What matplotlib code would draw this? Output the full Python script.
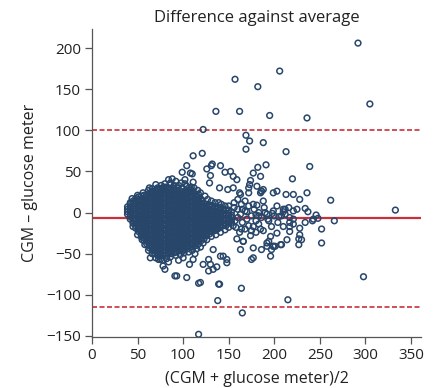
import matplotlib
matplotlib.use("Agg")
import matplotlib.pyplot as plt
import numpy as np

plt.rcParams["font.family"] = ["Open Sans", "DejaVu Sans"]

# %% data
# dense core of the cloud: one x per column, the y values read off for that column
blob_cols = [39, 42, 45, 48, 51, 54, 57, 60, 63, 66, 69, 72, 75, 78, 81, 84, 87,
             90, 93, 96, 99, 102, 105, 108, 111, 114, 117, 120, 123, 126, 129,
             132, 135, 138, 141, 144, 147, 150, 153]
blob_y = [
    [-2, 1, 4, 7],
    [-8, -5, -2, 1, 4, 7, 10, 12],
    [-13, -10, -7, -4, -1, 2, 5, 8, 11, 14],
    [-19, -16, -13, -10, -7, -4, -1, 2, 5, 8, 11, 14, 17],
    [-23, -20, -17, -14, -11, -8, -5, -2, 1, 4, 7, 10, 13, 16, 19],
    [-29, -26, -23, -20, -17, -14, -11, -8, -5, -2, 1, 4, 7, 10, 13, 16, 20],
    [-34, -31, -28, -25, -22, -19, -16, -13, -10, -7, -4, -1, 2, 5, 8, 11, 14, 17, 21],
    [-38, -35, -32, -29, -26, -23, -20, -17, -14, -11, -8, -5, -2, 1, 4, 7, 10, 13,
     16, 19, 22],
    [-43, -40, -37, -34, -31, -28, -25, -22, -19, -16, -13, -10, -7, -4, -1, 2, 5, 8,
     11, 14, 17, 20, 23],
    [-46, -43, -40, -37, -34, -31, -28, -25, -22, -19, -16, -13, -10, -7, -4, -1, 2, 5,
     8, 11, 14, 17, 20, 23, 25],
    [-50, -47, -44, -41, -38, -35, -32, -29, -26, -23, -20, -17, -14, -11, -8, -5, -2, 1,
     4, 7, 10, 13, 16, 19, 22, 26],
    [-52, -49, -46, -43, -40, -37, -34, -31, -28, -25, -22, -19, -16, -13, -10, -7, -4,
     -1, 2, 5, 8, 11, 14, 17, 20, 23],
    [-53, -50, -47, -44, -41, -38, -35, -32, -29, -26, -23, -20, -17, -14, -11, -8, -5,
     -2, 1, 4, 7, 10, 13, 16, 19, 22, 25, 28],
    [-52, -49, -46, -43, -40, -37, -34, -31, -28, -25, -22, -19, -16, -13, -10, -7, -4,
     -1, 2, 5, 8, 11, 14, 17, 20, 23, 27],
    [-52, -49, -46, -43, -40, -37, -34, -31, -28, -25, -22, -19, -16, -13, -10, -7, -4,
     -1, 2, 5, 8, 11, 14, 17, 20, 23, 26, 29, 31],
    [-50, -47, -44, -41, -38, -35, -32, -29, -26, -23, -20, -17, -14, -11, -8, -5, -2,
     1, 4, 7, 10, 13, 16, 19, 22, 25, 28, 30],
    [-50, -47, -44, -41, -38, -35, -32, -29, -26, -23, -20, -17, -14, -11, -8, -5, -2,
     1, 4, 7, 10, 13, 16, 19, 22, 25, 28],
    [-49, -46, -43, -40, -37, -34, -31, -28, -25, -22, -19, -16, -13, -10, -7, -4, -1,
     2, 5, 8, 11, 14, 17, 20, 23, 26, 29],
    [-48, -45, -42, -39, -36, -33, -30, -27, -24, -21, -18, -15, -12, -9, -6, -3, 0,
     3, 6, 9, 12, 15, 18, 21, 24, 27, 30],
    [-46, -43, -40, -37, -34, -31, -28, -25, -22, -19, -16, -13, -10, -7, -4, -1, 2,
     5, 8, 11, 14, 17, 20, 23, 27],
    [-47, -44, -41, -38, -35, -32, -29, -26, -23, -20, -17, -14, -11, -8, -5, -2, 1,
     4, 7, 10, 13, 16, 19, 22, 25, 29],
    [-45, -42, -39, -36, -33, -30, -27, -24, -21, -18, -15, -12, -9, -6, -3, 0, 3,
     6, 9, 12, 15, 18, 21, 24, 26],
    [-44, -41, -38, -35, -32, -29, -26, -23, -20, -17, -14, -11, -8, -5, -2, 1, 4,
     7, 10, 13, 16, 19, 22, 25, 27],
    [-42, -39, -36, -33, -30, -27, -24, -21, -18, -15, -12, -9, -6, -3, 0, 3, 6,
     9, 12, 15, 18, 21, 24, 27, 29],
    [-42, -39, -36, -33, -30, -27, -24, -21, -18, -15, -12, -9, -6, -3, 0, 3, 6,
     9, 12, 15, 18, 21, 25],
    [-40, -37, -34, -31, -28, -25, -22, -19, -16, -13, -10, -7, -4, -1, 2, 5, 8,
     11, 14, 17, 20, 22],
    [-38, -35, -32, -29, -26, -23, -20, -17, -14, -11, -8, -5, -2, 1, 4, 7, 10,
     13, 16, 19, 22],
    [-34, -31, -28, -25, -22, -19, -16, -13, -10, -7, -4, -1, 2, 5, 8, 11, 14, 16],
    [-32, -29, -26, -23, -20, -17, -14, -11, -8, -5, -2, 1, 4, 7, 11],
    [-28, -25, -22, -19, -16, -13, -10, -7, -4, -1, 2, 5, 8, 10],
    [-26, -23, -20, -17, -14, -11, -8, -5, -2, 1, 4, 7, 9],
    [-23, -20, -17, -14, -11, -8, -5, -2, 1, 4, 8],
    [-22, -19, -16, -13, -10, -7, -4, -1, 2, 5, 7],
    [-20, -17, -14, -11, -8, -5, -2, 1, 4, 6],
    [-18, -15, -12, -9, -6, -3, 0, 3, 6],
    [-16, -13, -10, -7, -4, -1, 2, 4],
    [-16, -13, -10, -7, -4, -1, 3],
    [-13, -10, -7, -4, -1, 3],
    [-12, -9, -6, -3, 1],
]

# ragged rim of the core
edge_x = [44, 50, 56, 62, 66, 72, 76, 80, 86, 90, 95, 98, 104, 112, 116, 119,
          124, 127, 131, 135, 139, 142, 146, 150, 156, 160, 63, 70, 92, 88, 79,
          45, 50, 55, 58, 62, 66, 70, 73, 77, 82, 86, 92, 97, 101, 106, 110,
          115, 119, 122, 126, 131, 136, 141, 146, 150, 155, 84, 95, 100, 113,
          157, 160, 163, 165, 168, 170, 172, 175, 178, 180, 183, 186, 189, 192,
          158, 162, 168, 174, 180, 185, 194, 200, 204, 156, 160, 164, 168, 172]
edge_y = [17, 21, 24, 27, 29, 30, 33, 35, 34, 33, 33, 36, 32, 30, 27, 24,
          20, 16, 14, 12, 12, 10, 8, 8, 6, 4, 30, 34, 38, 41, 30,
          -17, -27, -33, -39, -46, -50, -55, -57, -58, -56, -54, -52, -51, -49, -48, -46,
          -44, -42, -37, -33, -29, -27, -24, -21, -18, -16, -60, -58, -55, -50,
          -10, -6, -2, -12, 2, -8, -16, -4, 4, -10, 0, -6, 6, -2,
          -18, -24, -20, -28, -24, -20, -10, -4, -12, 12, 16, 10, 14, 8]

# scattered points away from the core
scatter_x = [292, 157, 206, 182, 136, 162, 195, 236, 305, 122,
             169, 173, 188, 169, 213, 111, 121, 132, 141, 126,
             146, 191, 182, 110, 130, 220, 174, 129, 155, 173,
             140, 186, 239, 262, 333, 234, 237, 248, 242, 266,
             252, 252, 104, 99, 108, 131, 84, 111, 102, 109,
             149, 163, 172, 185, 188, 199, 203, 164, 177, 183,
             188, 196, 194, 199, 196, 159, 166, 163, 177, 133,
             141, 148, 130, 137, 93, 104, 119, 139, 64, 75,
             78, 111, 107, 122, 166, 177, 186, 192, 197, 201,
             207, 214, 217, 227, 228, 221, 234, 217, 210, 216,
             221, 210, 203, 175, 128, 144, 148, 91, 117, 140,
             164, 138, 215, 165, 117, 128, 133, 80, 298, 208,
             212, 217, 221, 225, 228, 230, 227, 208, 199, 192,
             203, 197, 243, 199, 210, 205, 212, 217, 181, 188,
             177, 186, 172, 181, 185, 177, 162, 159, 155, 152,
             213, 221, 228, 236, 102, 86, 66, 71, 77, 165,
             170, 180, 190, 198, 175, 183, 193, 246]
scatter_y = [206, 162, 172, 153, 123, 123, 118, 115, 132, 101,
             94, 87, 85, 77, 74, 69, 72, 59, 57, 53,
             49, 58, 55, 47, 45, 41, 39, 36, 30, 34,
             30, 26, 56, 15, 3, 5, 1, -7, -10, -10,
             -20, -37, 57, 49, 48, 57, 40, 37, 35, 31,
             28, 22, 24, 24, 28, 24, 26, -20, -17, -14,
             -22, -29, -35, -41, -53, -32, -35, -45, -55, -45,
             -53, -57, -63, -66, -77, -79, -85, -87, -55, -57,
             -65, -57, -63, -63, -35, -43, -45, -41, -45, -41,
             -39, -33, -23, -32, -19, -14, -12, -12, -17, 6,
             2, 4, 8, -57, -57, -53, -61, -77, -86, -87,
             -92, -107, -106, -122, -148, -71, -69, -69, -78, -4,
             4, -17, -8, 4, -27, -33, -39, -39, -41, -37,
             -25, -17, -8, 2, 1, -5, -2, -6, 9, 14,
             10, 26, 30, 32, 44, 48, 24, 40, 44, 50,
             22, 22, 16, 24, 40, 36, 26, 28, 30, 4,
             1, -3, 0, -1, -22, -4, -8, -3]

mean_diff = -7
upper_loa = 100.5
lower_loa = -114.5

x_ticks = [0, 50, 100, 150, 200, 250, 300, 350]
y_ticks = [-150, -100, -50, 0, 50, 100, 150, 200]

# %% plot
pt_x = np.concatenate([np.repeat(blob_cols, [len(c) for c in blob_y]), edge_x, scatter_x])
pt_y = np.concatenate([np.concatenate(blob_y), edge_y, scatter_y])

fig = plt.figure(figsize=(4.33, 3.88), dpi=100)
ax = fig.add_axes([0.2125, 0.132, 0.7595, 0.793])

line_red = "#c8303a"
ax.axhline(mean_diff, color=line_red, lw=1.6, zorder=1)
ax.axhline(upper_loa, color=line_red, lw=1.2, ls=(0, (3, 1.5)), zorder=1)
ax.axhline(lower_loa, color=line_red, lw=1.2, ls=(0, (3, 1.5)), zorder=1)

ax.scatter(pt_x, pt_y, s=17, facecolors="none", edgecolors="#27466a",
           linewidths=1.1, zorder=2)

ax.set_xlim(0, 361)
ax.set_ylim(-151, 223)
ax.set_xticks(x_ticks)
ax.set_yticks(y_ticks)
ax.set_yticklabels([str(v).replace("-", "\u2212") for v in y_ticks])

for s in ["top", "right"]:
    ax.spines[s].set_visible(False)
for s in ["left", "bottom"]:
    ax.spines[s].set_color("#555555")
    ax.spines[s].set_linewidth(0.9)
ax.tick_params(colors="#555555", labelcolor="#222222", labelsize=11,
               length=5, width=0.9, pad=3)

ax.set_title("Difference against average", fontsize=12, color="#222222", pad=5)
ax.set_xlabel("(CGM + glucose meter)/2", fontsize=11.5, color="#222222", labelpad=6)
ax.set_ylabel("CGM \u2013 glucose meter", fontsize=11.5, color="#222222", labelpad=6)

fig.savefig("out.png", dpi=100)
